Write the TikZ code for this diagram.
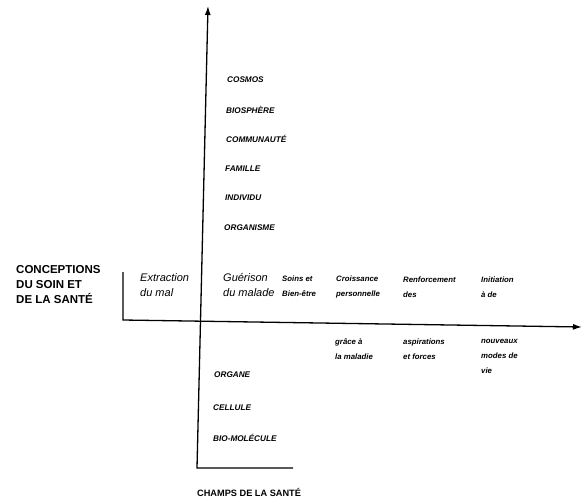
\documentclass[tikz,border=0pt]{standalone}
\usepackage{fontspec}
\setmainfont{Liberation Sans}
\usetikzlibrary{arrows.meta}
\tikzset{
  axe/.style={line width=1.3pt},
  fleche/.style={-{Latex[length=9pt,width=6pt]}},
  titre/.style={anchor=north west, inner sep=0pt, align=left, font=\bfseries\fontsize{11.5}{15}\selectfont},
  niveau/.style={anchor=west, inner sep=0pt, font=\bfseries\itshape\fontsize{8.2}{10}\selectfont},
  soin/.style={anchor=north west, inner sep=0pt, align=left, font=\itshape\fontsize{11}{15}\selectfont},
  note/.style={anchor=north west, inner sep=0pt, align=left, font=\bfseries\itshape\fontsize{7.8}{15}\selectfont}
}
\begin{document}
\begin{tikzpicture}[x=1pt,y=-1pt]
\useasboundingbox (0,0) rectangle (582,504);
% axes
\coordinate (haut) at (208,6); \coordinate (bas) at (197,468); \coordinate (finbas) at (293,468);
\coordinate (barre) at (123,272); \coordinate (gauche) at (123,320); \coordinate (droite) at (582,327);
\draw [axe,fleche] (finbas) -- (bas) -- (haut);
\draw [axe,fleche] (barre) -- (gauche) -- (droite);
% titres des axes
\node [titre] (conceptions) at (16,265) {CONCEPTIONS\\DU SOIN ET\\DE LA SANTÉ};
\node [titre,font=\bfseries\fontsize{9.2}{11}\selectfont] (champs) at (197,488) {CHAMPS DE LA SANTÉ};
% champs au-dessus de l'axe
\node [niveau] (cosmos) at (227,80) {COSMOS};
\node [niveau] (biosphere) at (226,110) {BIOSPHÈRE};
\node [niveau] (communaute) at (226,139) {COMMUNAUTÉ};
\node [niveau] (famille) at (225,169) {FAMILLE};
\node [niveau] (individu) at (225,198) {INDIVIDU};
\node [niveau] (organisme) at (224,228) {ORGANISME};
% champs au-dessous de l'axe
\node [niveau] (organe) at (214,375) {ORGANE};
\node [niveau] (cellule) at (213,408) {CELLULE};
\node [niveau] (molecule) at (213,438) {BIO-MOLÉCULE};
% conceptions du soin
\node [soin] (extraction) at (140,273) {Extraction\\du mal};
\node [soin] (guerison) at (223,273) {Guérison\\du malade};
\node [note] (soins) at (282,276) {Soins et\\Bien-être};
\node [note] (croissance) at (336,276) {Croissance\\personnelle};
\node [note] (renforcement) at (403,277) {Renforcement\\des};
\node [note] (initiation) at (481,277) {Initiation\\à de};
\node [note] (grace) at (335,338) {grâce à\\la maladie};
\node [note] (aspirations) at (403,339) {aspirations\\et forces};
\node [note] (nouveaux) at (481,339) {nouveaux\\modes de\\vie};
\end{tikzpicture}
\end{document}
